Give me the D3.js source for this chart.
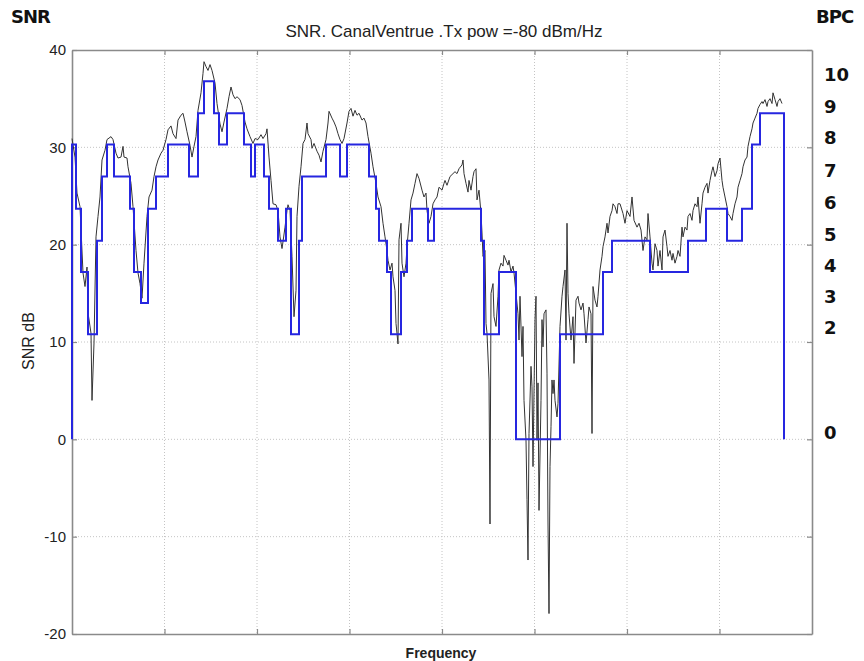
<!DOCTYPE html>
<html>
<head>
<meta charset="utf-8">
<script src="https://cdn.jsdelivr.net/npm/d3@7"></script>
<style>
  body { margin: 0; background: #fff; }
  text { font-family: "Liberation Sans", Arial, sans-serif; }
  .heavy { font-family: "DejaVu Sans", sans-serif; font-weight: bold; }
</style>
</head>
<body>
<div id="chart"></div>
<script>
// frequency bins along the x axis (0..740), SNR in dB
var snrBin = [0,3,5,8,11,13,15,16,19,20,22,24,26,28,30,33,35,39,41,44,46,49,51,52,55,56,59,61,64,66,68,70,72,75,77,80,82,84,86,89,91,94,96,99,101,104,106,109,111,113,115,118,120,122,124,126,129,131,132,134,136,138,140,143,145,148,150,152,155,157,159,161,163,165,168,170,173,175,178,181,183,
  186,189,191,194,195,197,199,201,204,206,208,210,211,213,215,216,218,220,222,224,225,227,229,231,233,235,236,239,240,242,245,247,249,251,254,256,257,260,262,264,266,268,270,272,275,277,279,281,283,285,287,290,292,294,296,299,301,304,306,309,311,313,315,316,318,320,321,323,324,326,327,329,330,332,334,335,337,339,341,343,345,347,350,352,354,355,357,359,361,363,365,367,370,372,
  373,375,378,381,383,385,387,390,391,392,394,396,397,399,401,402,404,405,407,409,410,411,413,414,415,417,418,419,421,422,424,426,427,429,431,432,434,436,437,439,441,442,444,446,447,448,450,451,452,454,455,456,457,459,460,461,463,464,465,466,467,469,470,471,472,474,475,476,477,478,479,480,481,482,483,485,486,488,490,491,493,494,495,496,497,499,501,502,504,506,507,509,511,512,514,516,517,519,520,521,523,525,526,528,530,531,533,535,536,538,540,541,543,545,546,
  548,551,553,555,558,560,562,565,567,569,571,573,575,576,578,580,581,583,585,586,588,590,591,593,595,596,598,600,601,603,605,606,608,610,611,613,615,616,618,620,621,623,625,626,628,630,631,633,635,636,638,640,641,643,645,646,648,650,651,653,655,656,658,660,661,663,665,666,668,670,671,673,675,676,678,680,681,683,685,686,688,690,691,693,695,696,698,700,701,703,705,706,708,710];
var snrDb = [30.9,29.0,25.3,23.9,17.1,15.7,17.7,13.0,10.9,4.0,9.9,20.8,22.9,24.9,28.7,29.7,30.8,31.1,30.8,29.4,28.9,29.0,30.1,29.0,28.9,28.0,26.3,23.9,19.4,17.1,16.0,14.5,18.1,22.9,24.9,25.6,27.0,28.0,28.7,29.4,29.7,30.8,31.8,32.2,31.4,30.9,32.8,33.3,33.5,32.6,31.6,30.2,29.0,30.1,31.1,33.8,35.6,37.6,38.8,38.3,37.9,38.5,37.9,36.6,34.5,32.4,31.6,32.6,34.0,35.2,36.2,35.4,35.0,35.2,34.9,34.3,32.6,31.9,31.1,30.4,30.9,
  30.8,31.3,30.9,31.4,31.9,29.0,26.6,24.2,24.1,23.5,20.8,19.6,20.3,21.8,23.5,24.1,23.5,18.8,12.6,15.3,22.9,26.0,28.0,30.4,30.8,32.5,31.4,30.8,29.9,30.4,29.6,29.2,28.5,29.6,30.8,32.5,33.7,33.0,32.6,32.1,31.4,30.8,30.4,30.9,32.5,33.7,34.0,33.2,33.8,33.3,33.5,32.8,33.0,32.5,31.1,29.4,28.0,26.3,24.9,23.9,22.2,20.8,19.4,18.4,17.4,18.1,16.7,15.3,11.9,9.8,20.5,22.2,18.1,16.7,18.1,19.8,22.2,24.6,25.3,26.3,27.3,26.8,25.6,24.9,25.3,23.5,22.2,22.9,24.2,24.6,24.9,25.9,25.6,26.3,
  26.6,26.1,27.0,27.3,27.5,27.3,27.8,28.2,28.7,27.3,26.3,25.4,26.6,25.6,27.0,27.5,27.8,24.6,25.6,23.2,21.2,18.8,19.4,11.9,10.9,6.1,-8.7,15.0,16.0,12.6,11.6,14.7,17.4,18.1,17.8,18.9,18.4,17.9,18.4,17.2,17.8,17.1,15.0,12.9,10.2,14.7,8.5,11.6,4.0,-0.1,-6.2,-12.4,0.6,7.5,5.4,-2.8,12.3,14.7,-0.1,5.8,-7.3,4.0,12.3,9.5,12.9,13.3,6.8,-8.7,-17.9,-2.8,1.3,6.1,4.7,6.1,4.0,2.3,3.7,11.6,14.7,15.7,17.4,10.2,22.2,15.0,12.9,10.2,12.6,7.8,14.3,14.7,14.0,13.3,14.0,12.9,9.9,12.3,13.6,12.9,0.6,15.7,14.3,13.6,14.7,17.4,18.8,19.8,20.8,22.2,21.2,22.9,23.5,24.2,23.9,23.2,24.2,
  24.2,23.2,22.2,23.5,22.9,24.9,22.5,21.8,22.2,21.5,19.4,20.8,20.5,23.2,20.8,18.1,17.4,20.1,19.4,17.8,19.4,17.4,20.8,21.5,19.8,18.8,19.4,18.4,19.1,18.1,18.8,19.4,18.8,21.8,20.8,21.8,21.5,22.9,23.2,22.5,23.5,24.2,23.9,24.9,22.2,24.2,25.3,25.9,26.3,25.3,26.6,27.6,28.0,27.0,27.6,28.3,28.9,26.6,25.9,24.9,23.9,23.2,22.9,22.5,23.2,24.2,24.9,25.9,26.6,27.3,28.0,28.7,29.0,30.1,31.1,31.9,32.5,33.0,33.5,34.0,34.4,34.7,34.5,34.9,34.2,34.7,35.0,34.5,35.6,34.9,34.2,34.7,35.0,34.5];

// bit loading: segment start bins, bits per carrier, end of last segment
var bitStart = [0,4,9,16,25,30,35,42,58,62,69,76,84,96,117,126,132,142,147,155,172,179,183,192,197,206,214,219,227,230,254,268,275,297,304,307,315,319,329,335,340,356,362,409,412,427,444,488,531,540,578,616,634,655,670,680,688];
var bitVal   = [8,6,4,2,5,7,8,7,6,4,3,6,7,8,7,9,10,9,8,9,8,7,8,7,6,5,6,2,5,7,8,7,8,7,6,5,4,2,4,5,6,5,6,5,2,4,0,2,4,5,4,5,6,5,6,8,9];
var bitEnd = 712;

// SNR (dB) of each BPC level, and right hand labels
var bpcBits = [0, 2, 3, 4, 5, 6, 7, 8, 9, 10];
var bpcSnr  = [0, 10.8, 14.0, 17.2, 20.4, 23.7, 27.0, 30.3, 33.5, 36.8];

var yTicks = [40, 30, 20, 10, 0, -10, -20];

var margin = { top: 50, right: 52, bottom: 27, left: 72 },
  width = 864 - margin.left - margin.right,
  height = 661 - margin.top - margin.bottom;

var root = d3.select("#chart")
  .append("svg")
  .attr("width", 864)
  .attr("height", 661);

var svg = root.append("g")
  .attr("transform", "translate(" + margin.left + "," + margin.top + ")");

var x = d3.scaleLinear().domain([0, 740]).range([0, width]);
var y = d3.scaleLinear().domain([-20, 40]).range([height, 0]);
var xGrid = d3.range(1, 8).map(function (k) { return k * 92.5; });

// grid
svg.append("g")
  .selectAll("line")
  .data(xGrid)
  .enter()
  .append("line")
  .attr("x1", function (d) { return x(d); })
  .attr("x2", function (d) { return x(d); })
  .attr("y1", 0)
  .attr("y2", height)
  .attr("stroke", "#c4c4c4")
  .attr("stroke-dasharray", "1,2");

svg.append("g")
  .selectAll("line")
  .data(yTicks.slice(1, -1))
  .enter()
  .append("line")
  .attr("x1", 0)
  .attr("x2", width)
  .attr("y1", function (d) { return y(d); })
  .attr("y2", function (d) { return y(d); })
  .attr("stroke", "#c4c4c4")
  .attr("stroke-dasharray", "1,2");

// axes with inward ticks
var axisColor = "#8a8a8a";
function styleAxis(g) {
  g.selectAll(".domain").attr("stroke", axisColor).attr("stroke-width", 1.6);
  g.selectAll(".tick line").attr("stroke", axisColor).attr("stroke-width", 1.2);
}

svg.append("g")
  .call(d3.axisLeft(y).tickValues(yTicks).tickSizeInner(-5).tickSizeOuter(0).tickPadding(6)
    .tickFormat(function (d) { return String(d); }))
  .call(styleAxis)
  .call(function (g) {
    g.selectAll(".tick text")
      .attr("fill", "#222")
      .style("font-size", "15px")
      .style("font-family", "Liberation Sans, Arial, sans-serif");
  });

svg.append("g")
  .attr("transform", "translate(" + width + ",0)")
  .call(d3.axisRight(y).tickValues(yTicks).tickSizeInner(-5).tickSizeOuter(0).tickFormat(""))
  .call(styleAxis);

svg.append("g")
  .attr("transform", "translate(0," + height + ")")
  .call(d3.axisBottom(x).tickValues(xGrid).tickSizeInner(-5).tickSizeOuter(0).tickFormat(""))
  .call(styleAxis);

svg.append("g")
  .call(d3.axisTop(x).tickValues(xGrid).tickSizeInner(-5).tickSizeOuter(0).tickFormat(""))
  .call(styleAxis);

// measured SNR
var snrData = snrBin.map(function (b, i) { return { b: b, v: snrDb[i] }; });
svg.append("path")
  .datum(snrData)
  .attr("fill", "none")
  .attr("stroke", "#333")
  .attr("stroke-width", 1)
  .attr("d", d3.line()
    .x(function (d) { return x(d.b); })
    .y(function (d) { return y(d.v); }));

// bit loading steps
function levelOf(bits) { return bpcSnr[bpcBits.indexOf(bits)]; }
var steps = [{ b: bitStart[0], v: 0 }];
bitStart.forEach(function (b, i) { steps.push({ b: b, v: levelOf(bitVal[i]) }); });
steps.push({ b: bitEnd, v: levelOf(bitVal[bitVal.length - 1]) });
steps.push({ b: bitEnd, v: 0 });

svg.append("path")
  .datum(steps)
  .attr("fill", "none")
  .attr("stroke", "#2626e0")
  .attr("stroke-width", 2)
  .attr("d", d3.line()
    .curve(d3.curveStepAfter)
    .x(function (d) { return x(d.b); })
    .y(function (d) { return y(d.v); }));

// BPC labels on the right
svg.append("g")
  .selectAll("text")
  .data(bpcBits)
  .enter()
  .append("text")
  .attr("class", "heavy")
  .attr("x", width + 12)
  .attr("y", function (d, i) { return y(bpcSnr[i]); })
  .style("font-size", "18px")
  .attr("fill", "#111")
  .text(function (d) { return d; });

// titles
root.append("text")
  .attr("class", "heavy")
  .attr("x", 11)
  .attr("y", 23)
  .style("font-size", "18px")
  .style("letter-spacing", "-1px")
  .attr("fill", "#111")
  .text("SNR");

root.append("text")
  .attr("class", "heavy")
  .attr("x", 816)
  .attr("y", 23)
  .style("font-size", "18px")
  .style("letter-spacing", "-1px")
  .attr("fill", "#111")
  .text("BPC");

root.append("text")
  .attr("x", 444)
  .attr("y", 37)
  .attr("text-anchor", "middle")
  .style("font-size", "17px")
  .attr("fill", "#222")
  .text("SNR. CanalVentrue .Tx pow =-80 dBm/Hz");

root.append("text")
  .attr("x", 441)
  .attr("y", 658)
  .attr("text-anchor", "middle")
  .style("font-size", "14px")
  .style("font-weight", "bold")
  .attr("fill", "#222")
  .text("Frequency");

root.append("text")
  .attr("transform", "translate(34,341) rotate(-90)")
  .attr("text-anchor", "middle")
  .style("font-size", "16px")
  .attr("fill", "#222")
  .text("SNR dB");
</script>
</body>
</html>
